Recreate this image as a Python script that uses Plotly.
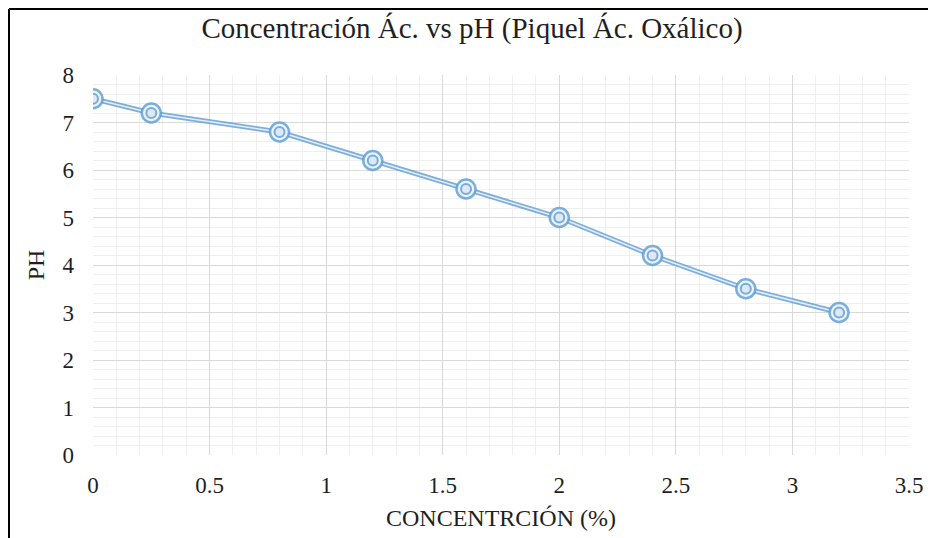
import plotly.graph_objects as go

concentracion = [0, 0.25, 0.8, 1.2, 1.6, 2.0, 2.4, 2.8, 3.2]
ph = [7.5, 7.2, 6.8, 6.2, 5.6, 5.0, 4.2, 3.5, 3.0]

x_ticks = [0, 0.5, 1, 1.5, 2, 2.5, 3, 3.5]
x_tick_labels = ["0", "0.5", "1", "1.5", "2", "2.5", "3", "3.5"]
y_ticks = [0, 1, 2, 3, 4, 5, 6, 7, 8]

title_text = "Concentración Ác. vs pH (Piquel Ác. Oxálico)"
x_title = "CONCENTRCIÓN (%)"
y_title = "PH"

blue = "rgba(91,155,213,0.8)"
font_family = "Liberation Serif, Times New Roman, serif"
txt = "#1f1f1f"

# page has 8px body margin; figure sized to fill the rest
W, H = 928, 530
L, R, T, B = 85, 27, 67, 83
pw, ph_px = W - L - R, H - T - B

fig = go.Figure()
fig.add_trace(go.Scatter(x=concentracion, y=ph, mode="lines",
                         line=dict(color=blue, width=5), hoverinfo="skip", showlegend=False))
fig.add_trace(go.Scatter(x=concentracion, y=ph, mode="lines",
                         line=dict(color="#e6eef8", width=1.5), hoverinfo="skip", showlegend=False))
fig.add_trace(go.Scatter(x=concentracion, y=ph, mode="markers",
                         marker=dict(size=19, color="#edf3fa", line=dict(color=blue, width=2.5)),
                         showlegend=False))
fig.add_trace(go.Scatter(x=concentracion, y=ph, mode="markers",
                         marker=dict(size=10, color="#dfe9f5", line=dict(color=blue, width=2)),
                         showlegend=False))

bx = (1 - L) / pw
by = (H - B - 1) / ph_px

fig.update_layout(
    width=W, height=H,
    margin=dict(l=L, r=R, t=T, b=B),
    paper_bgcolor="white", plot_bgcolor="white",
    font=dict(family=font_family, color=txt, size=23),
    title=dict(text=title_text, x=0.5, xanchor="center", y=1 - 20 / H, yanchor="middle",
               font=dict(family=font_family, size=29, color=txt)),
    showlegend=False,
    shapes=[
        dict(type="line", xref="paper", yref="paper", x0=bx, x1=1.2, y0=by, y1=by,
             line=dict(color="black", width=2)),
        dict(type="line", xref="paper", yref="paper", x0=bx, x1=bx, y0=by, y1=-0.3,
             line=dict(color="black", width=2)),
    ],
)

fig.update_xaxes(
    range=[0, 3.5], tickvals=x_ticks, ticktext=x_tick_labels,
    showgrid=True, gridcolor="#d9d9d9", gridwidth=1,
    minor=dict(dtick=0.1, showgrid=True, gridcolor="#efefef", gridwidth=1),
    zeroline=False, showline=False, ticks="", ticklabelstandoff=14,
    tickfont=dict(family=font_family, size=23),
    title=dict(text=x_title, standoff=12, font=dict(size=24)),
)
fig.update_yaxes(
    range=[0, 8], tickvals=y_ticks,
    showgrid=True, gridcolor="#d9d9d9", gridwidth=1,
    minor=dict(dtick=0.2, showgrid=True, gridcolor="#efefef", gridwidth=1),
    zeroline=False, showline=False, ticks="", ticklabelstandoff=18,
    tickfont=dict(family=font_family, size=23),
    title=dict(text=y_title, standoff=11, font=dict(size=24)),
)

fig.write_html("out.html")
